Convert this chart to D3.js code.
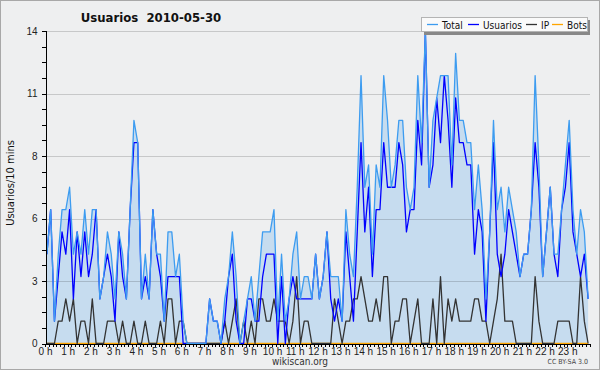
<!DOCTYPE html>
<html>
<head>
<meta charset="utf-8">
<script src="https://cdn.jsdelivr.net/npm/d3@7"></script>
<style>
  html, body { margin: 0; padding: 0; background: #eeeff0; }
  svg { display: block; font-family: "DejaVu Sans Condensed", "DejaVu Sans", sans-serif; }
  .axis path, .axis line { stroke: #000; shape-rendering: crispEdges; }
  .axis text { fill: #222; font-size: 10px; }
</style>
</head>
<body>
<div id="chart"></div>
<script>
// edits per 10 minutes, 2010-05-30 (144 slots)
var total = [4,6,1,4,6,6,7,4,5,4,6,4,6,6,2,3,5,4,2,5,4,2,6,10,9,2,4,2,6,4,4,1,5,5,3,4,1,0,0,0,0,0,0,2,1,1,0,2,
  3,5,3,0,1,2,3,1,3,5,5,5,6,1,4,1,2,4,5,2,3,3,2,4,2,3,5,3,3,3,1,6,4,3,7,12,7,8,4,8,7,12,10,7,8,10,10,7,
  6,7,12,9,14,7,10,11,12,12,12,8,13,10,10,9,9,6,8,6,2,5,10,6,7,5,7,6,5,3,4,4,6,12,8,3,5,7,4,4,6,8,10,6,4,6,5,2];
var usuarios = [4,6,1,3,5,4,6,2,5,3,5,3,4,6,2,3,4,3,1,5,3,2,6,9,9,2,3,2,6,4,3,1,3,3,3,3,0,0,0,0,0,0,0,2,1,1,0,1,
  3,4,1,0,0,2,2,1,1,3,4,4,4,0,3,0,2,3,2,2,2,2,2,4,2,3,5,2,1,2,1,5,3,1,5,9,5,7,3,6,6,9,7,7,7,9,8,5,
  6,6,10,8,14,7,8,11,9,12,10,7,11,9,9,8,8,4,6,5,1,5,9,4,3,4,6,5,4,3,4,4,6,9,7,3,5,7,4,3,6,7,9,5,4,3,4,2];
var ip = [0,0,0,1,1,2,1,2,0,1,1,0,2,0,0,0,1,1,1,0,1,0,0,1,0,0,1,0,0,0,1,0,2,2,0,1,1,0,0,0,0,0,0,0,0,0,0,1,
  0,1,2,0,1,0,1,0,2,2,1,1,2,1,1,1,0,1,3,0,1,1,0,0,0,0,0,0,2,1,0,1,1,2,2,3,2,1,1,2,1,3,3,0,1,1,2,2,
  0,1,2,0,0,0,2,0,3,0,2,1,2,1,1,1,1,2,2,1,1,0,1,2,4,1,1,1,0,0,0,0,0,3,1,0,0,0,0,1,1,1,1,0,0,3,1,0];
var bots = d3.range(144).map(function() { return 0; });

var yTicks = [0, 2.8, 5.6, 8.4, 11.2, 14];
var hourLabels = d3.range(24).map(function(h) { return h + " h"; });

var series = [
  { name: "Total", values: total, color: "#3d9cf0" },
  { name: "Usuarios", values: usuarios, color: "#0000ff" },
  { name: "IP", values: ip, color: "#333333" },
  { name: "Bots", values: bots, color: "#ffa500" }
];

var width = 600, height = 370;

var svg = d3.select("#chart").append("svg")
  .attr("width", width)
  .attr("height", height);

svg.append("rect")
  .attr("width", width).attr("height", height)
  .attr("fill", "#eeeff0")
  .attr("stroke", "#a8a8a8")
  .attr("stroke-width", 2);

var x = d3.scaleLinear().domain([0, 24]).range([45, 590]);
var y = d3.scaleLinear().domain([0, 14]).range([343.5, 31]);

function px(d, i) { return x((i + 0.5) / 6); }

// area under total
svg.append("path")
  .datum(total)
  .attr("fill", "#c6dcef")
  .attr("d", d3.area().x(px).y0(y(0)).y1(function(d) { return y(d); }));

// grid
svg.append("g")
  .selectAll("line").data(yTicks.slice(1)).enter().append("line")
  .attr("x1", 45).attr("x2", 590)
  .attr("y1", function(d) { return Math.round(y(d)) + 0.5; })
  .attr("y2", function(d) { return Math.round(y(d)) + 0.5; })
  .attr("stroke", "rgba(0,0,0,0.16)");

var line = d3.line().x(px).y(function(d) { return y(d); });

// draw bots first so it sits under everything
series.slice().reverse().forEach(function(s) {
  svg.append("path")
    .datum(s.values)
    .attr("fill", "none")
    .attr("stroke", s.color)
    .attr("stroke-width", 1.3)
    .attr("stroke-linejoin", "round")
    .attr("d", line);
});

// y axis
svg.append("g")
  .attr("class", "axis")
  .attr("transform", "translate(45.5,0)")
  .call(d3.axisLeft(y).tickValues(d3.range(0, 14.01, 0.7)).tickSize(4).tickFormat(""));

svg.append("g")
  .attr("class", "axis")
  .attr("transform", "translate(45.5,0)")
  .call(d3.axisLeft(y).tickValues(yTicks).tickSize(4).tickPadding(4)
    .tickFormat(function(d) { return Math.round(d); }))
  .call(function(g) { g.select(".domain").remove(); });

// x axis
svg.append("g")
  .attr("class", "axis")
  .attr("transform", "translate(0,344)")
  .call(d3.axisBottom(x).tickValues(d3.range(0, 24.01, 1 / 6)).tickSize(3).tickFormat("").tickSizeOuter(0));

svg.append("g")
  .attr("class", "axis")
  .attr("transform", "translate(0,344)")
  .call(d3.axisBottom(x).tickValues(d3.range(24)).tickSize(0).tickPadding(4)
    .tickFormat(function(d) { return hourLabels[d]; }))
  .call(function(g) { g.select(".domain").remove(); });

// texts
svg.append("text")
  .attr("x", 151).attr("y", 22)
  .attr("text-anchor", "middle")
  .attr("font-size", 13).attr("font-weight", "bold")
  .attr("fill", "#111")
  .style("white-space", "pre")
  .text("Usuarios  2010-05-30");

svg.append("text")
  .attr("transform", "translate(14,183) rotate(-90)")
  .attr("text-anchor", "middle")
  .attr("font-size", 11).attr("fill", "#111")
  .text("Usuarios/10 mins");

svg.append("text")
  .attr("x", 300).attr("y", 365)
  .attr("text-anchor", "middle")
  .attr("font-size", 10).attr("fill", "#333")
  .text("wikiscan.org");

svg.append("text")
  .attr("x", 588).attr("y", 364)
  .attr("text-anchor", "end")
  .attr("font-size", 7).attr("fill", "#444")
  .text("CC BY-SA 3.0");

// legend
var legend = svg.append("g");
legend.append("rect")
  .attr("x", 424).attr("y", 20).attr("width", 166).attr("height", 15)
  .attr("fill", "#888");
legend.append("rect")
  .attr("x", 421.5).attr("y", 17.5).attr("width", 166).attr("height", 14)
  .attr("fill", "#fafafa").attr("stroke", "#b4b4b4");

var lx = [427, 468, 526, 552];
var item = legend.selectAll("g.item").data(series).enter().append("g")
  .attr("class", "item")
  .attr("transform", function(d, i) { return "translate(" + lx[i] + ",0)"; });
item.append("line")
  .attr("x1", 0).attr("x2", 11).attr("y1", 24.5).attr("y2", 24.5)
  .attr("stroke", function(d) { return d.color; })
  .attr("stroke-width", 1.3);
item.append("text")
  .attr("x", 15).attr("y", 28.5)
  .attr("font-size", 10).attr("fill", "#111")
  .text(function(d) { return d.name; });
</script>
</body>
</html>
